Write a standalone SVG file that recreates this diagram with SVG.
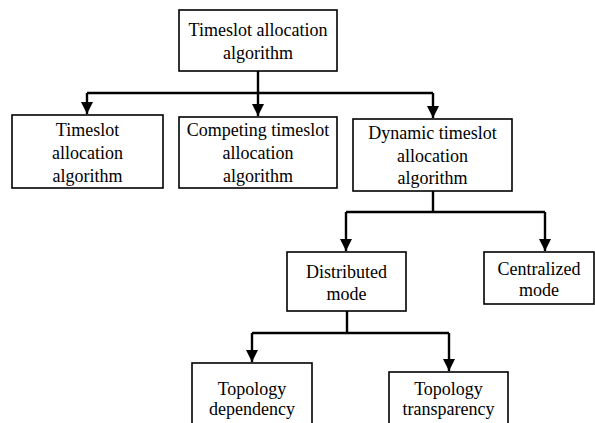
<svg xmlns="http://www.w3.org/2000/svg" width="595" height="423" viewBox="0 0 595 423">
<defs>
<marker id="ah" markerWidth="12" markerHeight="12" refX="12" refY="6" orient="auto" markerUnits="userSpaceOnUse" viewBox="0 0 12 12">
<path d="M0,0 L12,6 L0,12 Z" fill="#000"/>
</marker>
</defs>
<rect width="595" height="423" fill="#fff"/>
<g id="connectors" fill="none" stroke="#000" stroke-width="2.4">
<path d="M258,71 V116" marker-end="url(#ah)"/>
<path d="M87,93 H433"/>
<path d="M87,93 V114" marker-end="url(#ah)"/>
<path d="M433,93 V118" marker-end="url(#ah)"/>
<path d="M433,191 V212"/>
<path d="M346,212 H545"/>
<path d="M346,212 V251" marker-end="url(#ah)"/>
<path d="M545,212 V251" marker-end="url(#ah)"/>
<path d="M347,311 V333"/>
<path d="M252,333 H449"/>
<path d="M252,333 V362" marker-end="url(#ah)"/>
<path d="M449,333 V371" marker-end="url(#ah)"/>
</g>
<g id="root">
<rect x="179" y="10" width="158" height="61" fill="#fff" stroke="#000" stroke-width="1.6"/>
<text font-family="Liberation Serif" font-size="18" text-anchor="middle" x="258" y="36">Timeslot allocation</text>
<text font-family="Liberation Serif" font-size="18" text-anchor="middle" x="258" y="59">algorithm</text>
</g>
<g id="fixed">
<rect x="12" y="115" width="151" height="73" fill="#fff" stroke="#000" stroke-width="1.6"/>
<text font-family="Liberation Serif" font-size="18" text-anchor="middle" x="87.5" y="136">Timeslot</text>
<text font-family="Liberation Serif" font-size="18" text-anchor="middle" x="87.5" y="159">allocation</text>
<text font-family="Liberation Serif" font-size="18" text-anchor="middle" x="87.5" y="182">algorithm</text>
</g>
<g id="competing">
<rect x="179" y="117" width="158" height="71" fill="#fff" stroke="#000" stroke-width="1.6"/>
<text font-family="Liberation Serif" font-size="18" text-anchor="middle" x="258" y="136">Competing timeslot</text>
<text font-family="Liberation Serif" font-size="18" text-anchor="middle" x="258" y="159">allocation</text>
<text font-family="Liberation Serif" font-size="18" text-anchor="middle" x="258" y="182">algorithm</text>
</g>
<g id="dynamic">
<rect x="353" y="119" width="159" height="72" fill="#fff" stroke="#000" stroke-width="1.6"/>
<text font-family="Liberation Serif" font-size="18" text-anchor="middle" x="432.5" y="139">Dynamic timeslot</text>
<text font-family="Liberation Serif" font-size="18" text-anchor="middle" x="432.5" y="162">allocation</text>
<text font-family="Liberation Serif" font-size="18" text-anchor="middle" x="432.5" y="184">algorithm</text>
</g>
<g id="distributed">
<rect x="287" y="252" width="119" height="59" fill="#fff" stroke="#000" stroke-width="1.6"/>
<text font-family="Liberation Serif" font-size="18" text-anchor="middle" x="346.5" y="278">Distributed</text>
<text font-family="Liberation Serif" font-size="18" text-anchor="middle" x="346.5" y="300">mode</text>
</g>
<g id="centralized">
<rect x="484" y="252" width="110" height="52" fill="#fff" stroke="#000" stroke-width="1.6"/>
<text font-family="Liberation Serif" font-size="18" text-anchor="middle" x="539" y="275">Centralized</text>
<text font-family="Liberation Serif" font-size="18" text-anchor="middle" x="539" y="296">mode</text>
</g>
<g id="dependency">
<rect x="192" y="363" width="120" height="70" fill="#fff" stroke="#000" stroke-width="1.6"/>
<text font-family="Liberation Serif" font-size="18" text-anchor="middle" x="252" y="395">Topology</text>
<text font-family="Liberation Serif" font-size="18" text-anchor="middle" x="252" y="415">dependency</text>
</g>
<g id="transparency">
<rect x="389" y="372" width="119" height="60" fill="#fff" stroke="#000" stroke-width="1.6"/>
<text font-family="Liberation Serif" font-size="18" text-anchor="middle" x="448.5" y="395">Topology</text>
<text font-family="Liberation Serif" font-size="18" text-anchor="middle" x="448.5" y="415">transparency</text>
</g>
</svg>
